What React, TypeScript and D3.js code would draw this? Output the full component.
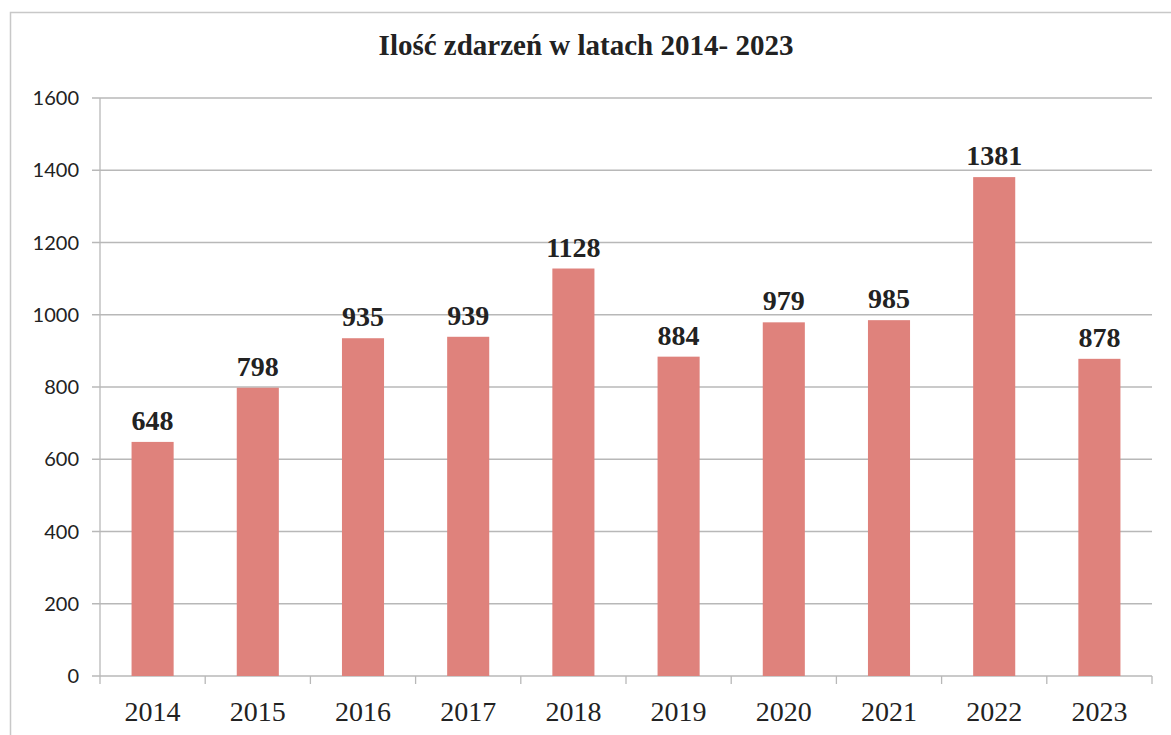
import React from "react";
import * as d3 from "d3";

const years = ["2014", "2015", "2016", "2017", "2018", "2019", "2020", "2021", "2022", "2023"];
const counts = [648, 798, 935, 939, 1128, 884, 979, 985, 1381, 878];
const yTicks = [0, 200, 400, 600, 800, 1000, 1200, 1400, 1600];
const title = "Ilość zdarzeń w latach 2014- 2023";

const W = 1171;
const H = 735;
const left = 100;
const right = 1152;
const top = 98;
const bottom = 676;

export default function App() {
  const x = d3.scaleBand<string>().domain(years).range([left, right]).paddingInner(0.6).paddingOuter(0.3);
  const xb = d3.scaleBand<string>().domain(years).range([left, right]);
  const y = d3.scaleLinear().domain([0, 1600]).range([bottom, top]);
  const serif = "'Liberation Serif', 'Times New Roman', serif";
  return (
    <svg width={W} height={H} style={{ position: "absolute", left: 0, top: 0, background: "#fff" }}>
      <rect x={10.5} y={12.5} width={W + 10} height={H} fill="#fff" stroke="#c8c8c8" strokeWidth={1.5} />
      <text x={586} y={55} textAnchor="middle" fontFamily={serif} fontWeight="bold" fontSize={29} fill="#222">
        {title}
      </text>
      {yTicks.map((t) => (
        <g key={t}>
          <line x1={left - 8} x2={right} y1={y(t)} y2={y(t)} stroke="#b8b8b8" strokeWidth={1.3} />
          <text x={79} y={y(t) + 7} textAnchor="end" fontFamily="Lato, sans-serif" fontSize={20} fill="#222">
            {t}
          </text>
        </g>
      ))}
      <line x1={left} x2={left} y1={top} y2={bottom} stroke="#b8b8b8" strokeWidth={1.3} />
      {years.map((yr) => (
        <line key={"t" + yr} x1={xb(yr)!} x2={xb(yr)!} y1={bottom} y2={bottom + 8} stroke="#b8b8b8" strokeWidth={1.3} />
      ))}
      <line x1={right} x2={right} y1={bottom} y2={bottom + 8} stroke="#b8b8b8" strokeWidth={1.3} />
      {years.map((yr, i) => (
        <g key={yr}>
          <rect x={x(yr)!} y={y(counts[i])} width={x.bandwidth()} height={bottom - y(counts[i])} fill="#df827c" />
          <text
            x={x(yr)! + x.bandwidth() / 2}
            y={y(counts[i]) - 12}
            textAnchor="middle"
            fontFamily={serif}
            fontWeight="bold"
            fontSize={28}
            fill="#222"
          >
            {counts[i]}
          </text>
          <text
            x={xb(yr)! + xb.bandwidth() / 2}
            y={721}
            textAnchor="middle"
            fontFamily={serif}
            fontSize={28}
            fill="#222"
          >
            {yr}
          </text>
        </g>
      ))}
    </svg>
  );
}
